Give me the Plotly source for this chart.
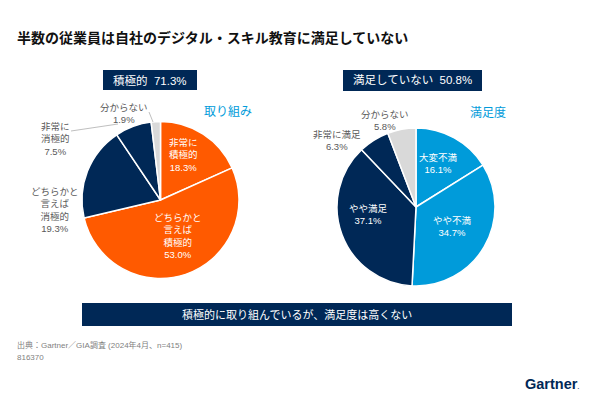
import plotly.graph_objects as go

W, H = 590, 398

# ---- data ----
effort_labels = ["非常に<br>積極的", "どちらかと<br>言えば<br>積極的", "どちらかと<br>言えば<br>消極的", "非常に<br>消極的", "分からない"]
effort_values = [18.3, 53.0, 19.3, 7.5, 1.9]
satis_labels = ["大変不満", "やや不満", "やや満足", "非常に満足", "分からない"]
satis_values = [16.1, 34.7, 37.1, 6.3, 5.8]

title = "半数の従業員は自社のデジタル・スキル教育に満足していない"
effort_title = "取り組み"
satis_title = "満足度"
effort_head = "積極的"
satis_head = "満足していない"
banner = "積極的に取り組んでいるが、満足度は高くない"
source = "出典：Gartner／GIA調査 (2024年4月、n=415)"
doc_id = "816370"

# ---- styles ----
ORANGE = "#FF5A00"
NAVY = "#002856"
BLUE = "#009BDA"
GRAY = "#D9D9D9"
TXT_GRAY = "#595959"
FONT = "Liberation Sans, Arial, Noto Sans CJK JP, sans-serif"

effort_colors = [ORANGE, ORANGE, NAVY, NAVY, GRAY]
satis_colors = [BLUE, BLUE, NAVY, NAVY, GRAY]


def px(x):
    return x / W


def py(y):
    return 1 - y / H


def domain(cx, cy, r):
    return dict(x=[px(cx - r), px(cx + r)], y=[py(cy + r), py(cy - r)])


fig = go.Figure()
fig.add_trace(go.Pie(
    values=effort_values, labels=[l.replace("<br>", "") for l in effort_labels],
    marker=dict(colors=effort_colors, line=dict(color="white", width=1.5)),
    sort=False, direction="clockwise", rotation=0, textinfo="none",
    hoverinfo="label+value", domain=domain(160.5, 200, 78.5), showlegend=False,
))
fig.add_trace(go.Pie(
    values=satis_values, labels=satis_labels,
    marker=dict(colors=satis_colors, line=dict(color="white", width=1.5)),
    sort=False, direction="clockwise", rotation=0, textinfo="none",
    hoverinfo="label+value", domain=domain(416, 207, 79), showlegend=False,
))

ann = []


def text(x, y, s, size, color, xanchor="center", bold=False):
    if bold:
        s = f"<b>{s}</b>"
    ann.append(dict(x=px(x), y=py(y), xref="paper", yref="paper", text=s,
                    showarrow=False, xanchor=xanchor, yanchor="middle",
                    font=dict(size=size, color=color, family=FONT), align="center"))


# slice labels (positions only)
effort_pos = [(183, 155), (178, 236), (55, 210), (55, 139), (124, 113)]
effort_txtc = ["white", "white", TXT_GRAY, TXT_GRAY, TXT_GRAY]
for lab, v, (x, y), c in zip(effort_labels, effort_values, effort_pos, effort_txtc):
    text(x, y, f"{lab}<br>{v:.1f}%", 9.5, c)

satis_pos = [(438, 163), (452, 226), (368, 215), (337, 141), (385, 121)]
satis_txtc = ["white", "white", "white", TXT_GRAY, TXT_GRAY]
for lab, v, (x, y), c in zip(satis_labels, satis_values, satis_pos, satis_txtc):
    text(x, y, f"{lab}<br>{v:.1f}%", 9.5, c)

# headers
shapes = []
shapes.append(dict(type="rect", xref="paper", yref="paper", x0=px(103), x1=px(197), y0=py(90), y1=py(70),
                   fillcolor=NAVY, line=dict(width=0)))
shapes.append(dict(type="rect", xref="paper", yref="paper", x0=px(343), x1=px(482), y0=py(91), y1=py(70),
                   fillcolor=NAVY, line=dict(width=0)))
text(150, 80, f"{effort_head}  {sum(effort_values[:2]):.1f}%", 11.5, "white")
text(412.5, 80.5, f"{satis_head}  {sum(satis_values[:2]):.1f}%", 11.5, "white")

text(228, 112, effort_title, 12, BLUE)
text(488, 113, satis_title, 12, BLUE)

# leader lines
for (x0, y0, x1, y1) in [(149, 112, 153, 122), (71, 131, 118, 124)]:
    shapes.append(dict(type="line", xref="paper", yref="paper", x0=px(x0), y0=py(y0), x1=px(x1), y1=py(y1),
                       line=dict(color="#BFBFBF", width=1)))

# banner
shapes.append(dict(type="rect", xref="paper", yref="paper", x0=px(82), x1=px(512), y0=py(326), y1=py(303),
                   fillcolor=NAVY, line=dict(width=0)))
text(297, 314.5, banner, 11, "white")

# title, source, logo
text(15, 38, title, 14, "#111111", xanchor="left", bold=True)
text(15, 345, source, 8, "#7F7F7F", xanchor="left")
text(15, 357, doc_id, 8, "#7F7F7F", xanchor="left")
text(523, 384, "Gartner<span style='font-size:6px'>.</span>", 14.5, NAVY, xanchor="left", bold=True)

fig.update_layout(
    width=W, height=H, margin=dict(l=0, r=0, t=0, b=0),
    paper_bgcolor="white", plot_bgcolor="white",
    annotations=ann, shapes=shapes, font=dict(family=FONT),
)
fig.write_html("out.html", config={"displayModeBar": False},
               post_script="document.body.style.margin='0';document.body.style.overflow='hidden';")
